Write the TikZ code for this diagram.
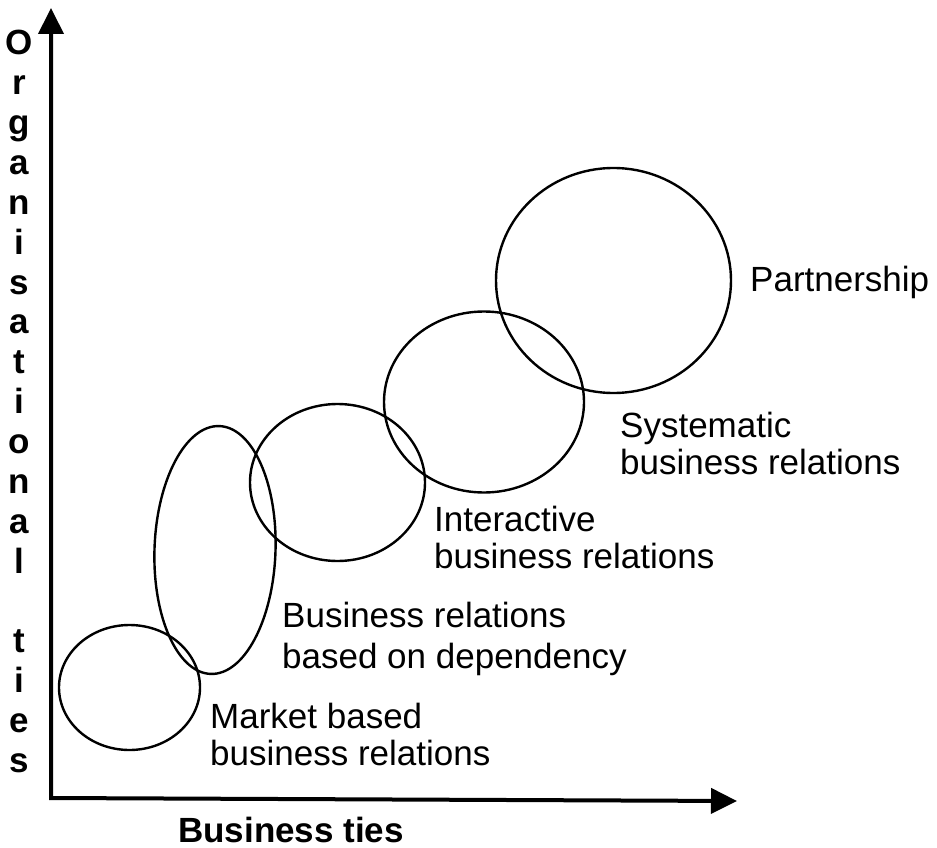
\documentclass[tikz,border=0pt]{standalone}
\usepackage{fontspec}
\setmainfont{Liberation Sans}
\usetikzlibrary{arrows.meta,shapes.geometric}
\begin{document}
\begin{tikzpicture}[x=1pt,y=-1pt,
  axis/.style={line width=4pt, line join=miter,
    {Triangle[length=26pt,width=25pt]}-{Triangle[length=26pt,width=25pt]}},
  ring/.style={ellipse, draw, line width=2.4pt, inner sep=0pt},
  caption/.style={font=\fontsize{35}{38}\selectfont, anchor=base west, inner sep=0pt},
  vletter/.style={font=\fontsize{35}{35}\selectfont\bfseries, anchor=base, inner sep=0pt},
]
\useasboundingbox (0,0) rectangle (937,848);

% axes
\coordinate (origin) at (51,798);
\coordinate (ytip) at (51,8);
\coordinate (xtip) at (737,801);
\draw[axis] (ytip) -- (origin) -- (xtip);

% stages of the relationship
\node[ring, minimum width=141pt, minimum height=125pt] (market) at (129.5,687.5) {};
\node[ring, minimum width=121pt, minimum height=248pt, rotate=-2] (dependency) at (215,550) {};
\node[ring, minimum width=175pt, minimum height=157pt] (interactive) at (337.5,482.5) {};
\node[ring, minimum width=200pt, minimum height=181pt] (systematic) at (484,402) {};
\node[ring, minimum width=235pt, minimum height=225pt] (partnership) at (613.5,280.5) {};

% stage captions
\node[caption] (capP) at (750,291) {Partnership};
\node[caption] (capS1) at (620,437) {Systematic};
\node[caption] (capS2) at (620,474) {business relations};
\node[caption] (capI1) at (434,531) {Interactive};
\node[caption] (capI2) at (434,568) {business relations};
\node[caption] (capD1) at (282,627) {Business relations};
\node[caption] (capD2) at (282,668) {based on dependency};
\node[caption] (capM1) at (210,728) {Market based};
\node[caption] (capM2) at (210,765) {business relations};

% axis titles
\foreach \ch [count=\k from 0] in {O,r,g,a,n,i,s,a,t,i,o,n,a,l,{},t,i,e,s}{
  \node[vletter] (ylab\k) at (19,{55+39.85*\k}) {\ch};
}
\node[font=\fontsize{35}{35}\selectfont\bfseries, anchor=base, inner sep=0pt] (xlab) at (291,842) {Business ties};
\end{tikzpicture}
\end{document}
